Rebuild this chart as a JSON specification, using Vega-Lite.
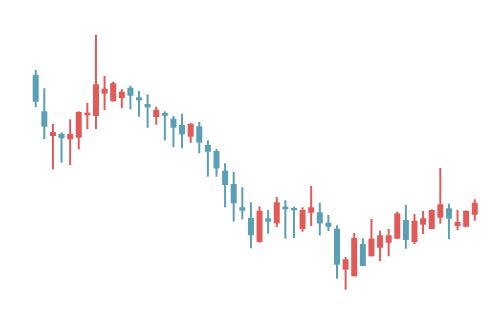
{
  "$schema": "https://vega.github.io/schema/vega-lite/v6.json",
  "width": 485,
  "height": 314,
  "autosize": {"type": "fit", "contains": "padding"},
  "padding": 0,
  "background": "white",
  "config": {"view": {"stroke": null}},
  "data": {"values": [
    {"day": 1, "open": 23.9, "high": 24.4, "low": 20.7, "close": 21.23},
    {"day": 2, "open": 20.27, "high": 22.57, "low": 17.5, "close": 18.73},
    {"day": 3, "open": 17.8, "high": 19.0, "low": 14.47, "close": 18.2},
    {"day": 4, "open": 18.0, "high": 18.17, "low": 15.13, "close": 17.57},
    {"day": 5, "open": 17.47, "high": 19.47, "low": 14.9, "close": 18.0},
    {"day": 6, "open": 17.63, "high": 20.27, "low": 16.47, "close": 20.2},
    {"day": 7, "open": 19.87, "high": 21.13, "low": 18.47, "close": 20.13},
    {"day": 8, "open": 19.8, "high": 27.93, "low": 18.5, "close": 22.97},
    {"day": 9, "open": 22.03, "high": 23.8, "low": 20.4, "close": 22.53},
    {"day": 10, "open": 21.27, "high": 23.23, "low": 21.27, "close": 23.07},
    {"day": 11, "open": 21.6, "high": 22.47, "low": 20.57, "close": 22.23},
    {"day": 12, "open": 22.63, "high": 22.83, "low": 20.47, "close": 21.83},
    {"day": 13, "open": 21.67, "high": 22.3, "low": 19.73, "close": 21.37},
    {"day": 14, "open": 21.0, "high": 21.97, "low": 18.63, "close": 20.67},
    {"day": 15, "open": 19.7, "high": 20.73, "low": 18.93, "close": 20.43},
    {"day": 16, "open": 20.1, "high": 20.27, "low": 17.37, "close": 19.83},
    {"day": 17, "open": 19.53, "high": 19.8, "low": 16.7, "close": 18.63},
    {"day": 18, "open": 18.9, "high": 20.03, "low": 16.57, "close": 17.97},
    {"day": 19, "open": 17.73, "high": 19.07, "low": 17.13, "close": 19.03},
    {"day": 20, "open": 18.77, "high": 19.2, "low": 16.07, "close": 17.13},
    {"day": 21, "open": 16.9, "high": 17.37, "low": 13.73, "close": 16.23},
    {"day": 22, "open": 16.3, "high": 16.5, "low": 13.73, "close": 14.55},
    {"day": 23, "open": 14.33, "high": 15.07, "low": 10.67, "close": 12.9},
    {"day": 24, "open": 13.0, "high": 14.2, "low": 9.23, "close": 11.07},
    {"day": 25, "open": 10.67, "high": 12.67, "low": 9.47, "close": 10.33},
    {"day": 26, "open": 9.6, "high": 11.17, "low": 6.57, "close": 7.87},
    {"day": 27, "open": 7.2, "high": 10.77, "low": 7.13, "close": 10.33},
    {"day": 28, "open": 9.57, "high": 10.4, "low": 8.03, "close": 9.23},
    {"day": 29, "open": 9.07, "high": 11.7, "low": 8.7, "close": 11.17},
    {"day": 30, "open": 10.73, "high": 11.37, "low": 7.53, "close": 10.47},
    {"day": 31, "open": 10.6, "high": 10.73, "low": 7.6, "close": 10.37},
    {"day": 32, "open": 8.5, "high": 10.67, "low": 8.23, "close": 10.4},
    {"day": 33, "open": 10.13, "high": 12.8, "low": 8.8, "close": 10.67},
    {"day": 34, "open": 10.17, "high": 11.12, "low": 7.87, "close": 9.05},
    {"day": 35, "open": 9.13, "high": 9.9, "low": 8.3, "close": 8.72},
    {"day": 36, "open": 8.53, "high": 8.87, "low": 3.53, "close": 4.93},
    {"day": 37, "open": 4.43, "high": 5.7, "low": 2.43, "close": 5.47},
    {"day": 38, "open": 3.77, "high": 8.1, "low": 3.77, "close": 7.6},
    {"day": 39, "open": 7.0, "high": 7.57, "low": 4.8, "close": 4.8},
    {"day": 40, "open": 5.77, "high": 9.5, "low": 5.77, "close": 7.53},
    {"day": 41, "open": 6.63, "high": 8.33, "low": 5.3, "close": 7.87},
    {"day": 42, "open": 7.13, "high": 8.5, "low": 5.77, "close": 7.87},
    {"day": 43, "open": 7.53, "high": 10.23, "low": 7.53, "close": 10.07},
    {"day": 44, "open": 9.4, "high": 10.9, "low": 6.53, "close": 7.4},
    {"day": 45, "open": 7.2, "high": 10.0, "low": 7.0, "close": 9.33},
    {"day": 46, "open": 8.93, "high": 10.3, "low": 8.0, "close": 9.57},
    {"day": 47, "open": 8.5, "high": 10.47, "low": 8.5, "close": 10.4},
    {"day": 48, "open": 9.63, "high": 14.6, "low": 9.03, "close": 10.97},
    {"day": 49, "open": 10.57, "high": 11.03, "low": 7.47, "close": 9.53},
    {"day": 50, "open": 8.8, "high": 10.4, "low": 8.4, "close": 9.2},
    {"day": 51, "open": 8.73, "high": 10.33, "low": 8.73, "close": 10.33},
    {"day": 52, "open": 9.93, "high": 11.47, "low": 9.33, "close": 11.13}
  ]},
  "encoding": {
    "x": {"field": "day", "type": "quantitative", "scale": {"domain": [-3.147, 53.19], "nice": false, "zero": false, "padding": 0}, "axis": null},
    "color": {"condition": {"test": "datum.open < datum.close", "value": "#e05a5a"}, "value": "#5b9fb4"}
  },
  "layer": [
    {
      "mark": {"type": "rule", "strokeWidth": 2},
      "encoding": {
        "y": {"field": "low", "type": "quantitative", "scale": {"domain": [0, 31.4], "nice": false, "zero": false}, "axis": null},
        "y2": {"field": "high"}
      }
    },
    {
      "mark": {"type": "bar", "size": 6},
      "encoding": {
        "y": {"field": "open", "type": "quantitative", "scale": {"domain": [0, 31.4], "nice": false, "zero": false}, "axis": null},
        "y2": {"field": "close"}
      }
    }
  ]
}
